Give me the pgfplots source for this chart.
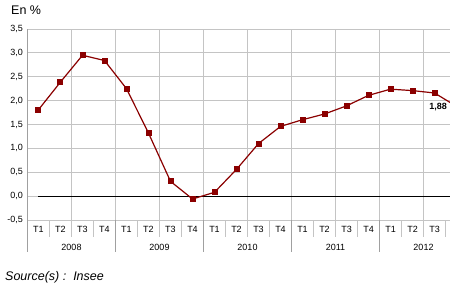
\documentclass[border=0pt]{standalone}
\usepackage{pgfplots}
\pgfplotsset{compat=1.18}
\usepackage{fontspec}
\setmainfont{Liberation Sans}
\definecolor{serie}{HTML}{8B0000}
\definecolor{grille}{HTML}{C4C4C4}
\definecolor{axe}{HTML}{A0A0A0}
\begin{document}
\begin{tikzpicture}
\useasboundingbox (0pt,0pt) rectangle (450pt,290pt);
\clip (0pt,0pt) rectangle (450pt,290pt);
\fill[white] (0pt,0pt) rectangle (450pt,290pt);
\node[anchor=west,inner sep=0pt,font=\fontsize{12.5}{14}\selectfont] at (11pt,280pt) {En \%};
\node[anchor=west,inner sep=0pt,font=\fontsize{12.5}{14}\selectfont\itshape] at (5pt,13pt) {Source(s)~:~~Insee};
\begin{axis}[
  at={(27.5pt,70pt)}, anchor=south west,
  scale only axis, width=440pt, height=191pt,
  xmin=-0.5, xmax=19.5, ymin=-0.5, ymax=3.5,
  axis line style={draw=none},
  xtick={-0.5,1.5,...,19.5}, xticklabels={},
  xmajorgrids, ymajorgrids,
  grid style={grille, line width=0.8pt},
  major tick length=0pt,
  extra x ticks={0,1,...,19},
  extra x tick labels={T1,T2,T3,T4,T1,T2,T3,T4,T1,T2,T3,T4,T1,T2,T3,T4,T1,T2,T3,T4},
  extra x tick style={grid=none, tick label style={yshift=-3pt}},
  ytick={-0.5,0,...,3.5},
  /pgf/number format/use comma,
  /pgf/number format/fixed,
  /pgf/number format/fixed zerofill,
  /pgf/number format/precision=1,
  /pgf/number format/assume math mode=true,
  tick label style={font=\fontsize{9}{10}\selectfont},
  yticklabel style={xshift=-1pt},
  clip=false,
]
\draw[axe, line width=0.8pt] (axis cs:-0.5,-0.5) -- (axis cs:-0.5,3.5);
\draw[black, line width=1pt] (axis cs:0,0) -- (axis cs:19.5,0);
\addplot[serie, line width=1.2pt, mark=square*, mark size=2.4pt, mark options={solid}] coordinates {
(0,1.81) (1,2.39) (2,2.95) (3,2.84)
(4,2.25) (5,1.32) (6,0.31) (7,-0.06)
(8,0.08) (9,0.56) (10,1.10) (11,1.46)
(12,1.60) (13,1.72) (14,1.89) (15,2.11)
(16,2.24) (17,2.21) (18,2.16) (19,1.88)
};
\node[anchor=east, xshift=-6pt, yshift=-1pt, font=\fontsize{9}{10}\selectfont\bfseries] at (axis cs:19,1.88) {1,88};
\end{axis}
\foreach \k in {1,...,19} \draw[grille, line width=0.8pt] (27.5pt+22*\k pt,70pt) -- ++(0pt,-17pt);
\foreach \k in {0,4,8,12,16} \draw[axe, line width=0.8pt] (27.5pt+22*\k pt,70pt) -- ++(0pt,-32pt);
\foreach \y [count=\j from 0] in {2008,2009,2010,2011,2012}
  \node[font=\fontsize{9}{10}\selectfont] at (71.5pt+88*\j pt,43pt) {\y};
\end{tikzpicture}
\end{document}
